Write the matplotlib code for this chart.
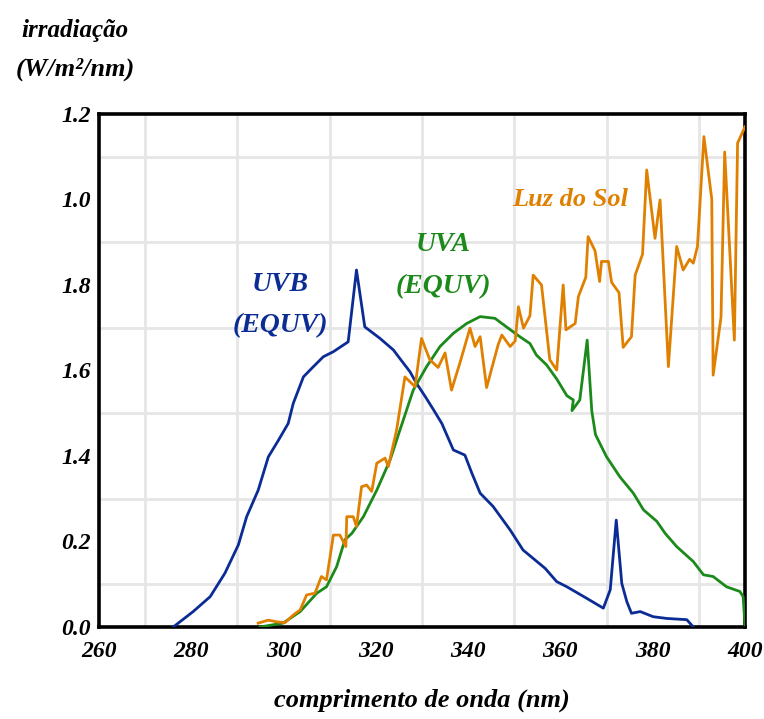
import matplotlib
matplotlib.use("Agg")
import matplotlib.pyplot as plt

# Espectros de irradiação (W/m²/nm) por comprimento de onda (nm)
uvb_wl = [276.1, 280.4, 284.1, 287.3, 290.2, 292.0, 294.5, 296.7, 298.9, 301.0,
          302.1, 304.3, 306.1, 308.6, 310.8, 314.0, 315.8, 317.6, 320.9, 323.8,
          325.2, 327.4, 328.8, 330.7, 332.5, 334.3, 336.8, 339.3, 340.8, 342.6,
          345.4, 349.1, 351.9, 356.7, 359.2, 361.4, 365.7, 369.3, 370.8, 372.1,
          373.3, 374.4, 375.4, 377.3, 380.1, 383.0, 387.4, 388.8]
uvb_val = [0.000, 0.036, 0.071, 0.126, 0.192, 0.258, 0.320, 0.398, 0.437, 0.476,
           0.523, 0.585, 0.605, 0.632, 0.644, 0.667, 0.835, 0.702, 0.675, 0.648,
           0.628, 0.597, 0.570, 0.539, 0.508, 0.476, 0.414, 0.402, 0.360, 0.313,
           0.282, 0.227, 0.180, 0.137, 0.106, 0.094, 0.067, 0.044, 0.087, 0.250,
           0.102, 0.059, 0.032, 0.036, 0.024, 0.020, 0.017, 0.000]

uva_wl = [294.9, 299.9, 303.6, 307.2, 309.3, 311.5, 313.3, 314.8, 317.3, 320.2,
          323.1, 325.2, 328.1, 331.0, 333.9, 336.8, 339.7, 342.6, 345.8, 348.3,
          351.2, 353.4, 354.8, 357.0, 359.2, 361.4, 362.8, 362.5, 364.2, 365.8,
          366.8, 367.6, 370.0, 372.9, 375.8, 378.0, 380.9, 382.7, 385.2, 388.8,
          391.0, 393.1, 396.0, 398.9, 399.6, 400.0]
uva_val = [0.000, 0.009, 0.036, 0.079, 0.094, 0.141, 0.204, 0.219, 0.258, 0.320,
           0.391, 0.460, 0.554, 0.609, 0.656, 0.687, 0.710, 0.726, 0.722, 0.702,
           0.679, 0.663, 0.636, 0.613, 0.580, 0.541, 0.531, 0.506, 0.531, 0.671,
           0.505, 0.450, 0.398, 0.351, 0.313, 0.274, 0.247, 0.219, 0.188, 0.153,
           0.122, 0.118, 0.094, 0.083, 0.071, 0.005]

sol_wl = [294.5, 296.7, 298.5, 300.3, 302.1, 303.6, 305.0, 306.8, 308.2, 309.3,
          310.8, 312.2, 313.5, 313.7, 315.1, 315.8, 316.9, 318.0, 319.1, 320.2,
          322.0, 322.7, 324.5, 326.3, 328.5, 329.9, 331.7, 333.5, 335.0, 336.4,
          338.2, 340.4, 341.5, 342.6, 344.0, 346.5, 347.3, 349.1, 350.2, 350.9,
          352.0, 353.4, 354.1, 355.9, 357.7, 359.2, 360.6, 361.2, 363.2, 363.9,
          365.5, 366.0, 367.5, 368.5, 368.9, 370.4, 371.1, 372.7, 373.6, 375.4,
          376.2, 377.8, 378.7, 380.5, 381.6, 383.4, 385.2, 386.6, 388.0, 388.8,
          389.7, 391.1, 392.8, 393.1, 394.8, 395.6, 397.7, 398.4, 400.0]
sol_val = [0.009, 0.016, 0.012, 0.010, 0.028, 0.040, 0.075, 0.079, 0.118, 0.110,
           0.215, 0.215, 0.188, 0.258, 0.258, 0.235, 0.328, 0.332, 0.317, 0.383,
           0.395, 0.375, 0.461, 0.585, 0.562, 0.675, 0.625, 0.607, 0.641, 0.554,
           0.617, 0.699, 0.656, 0.679, 0.560, 0.660, 0.683, 0.656, 0.669, 0.749,
           0.699, 0.728, 0.823, 0.800, 0.625, 0.601, 0.800, 0.695, 0.710, 0.773,
           0.818, 0.913, 0.880, 0.808, 0.855, 0.855, 0.806, 0.782, 0.654, 0.679,
           0.823, 0.872, 1.069, 0.909, 0.999, 0.609, 0.890, 0.835, 0.860, 0.851,
           0.890, 1.147, 1.001, 0.589, 0.724, 1.111, 0.671, 1.132, 1.170]

x_ticks = [260, 280, 300, 320, 340, 360, 380, 400]
y_ticks = [0.0, 0.2, 0.4, 0.6, 0.8, 1.0, 1.2]
y_tick_labels = ["0.0", "0.2", "1.4", "1.6", "1.8", "1.0", "1.2"]

BLUE = "#0b2c94"
GREEN = "#1b8a1b"
ORANGE = "#e08000"
FONT = dict(family="Liberation Serif", style="italic", weight="bold")

fig = plt.figure(figsize=(7.64, 7.19), dpi=100)
ax = fig.add_axes([0.1296, 0.128, 0.8455, 0.7135])

ax.plot(uvb_wl, uvb_val, color=BLUE, lw=2.0, zorder=3)
ax.plot(uva_wl, uva_val, color=GREEN, lw=2.0, zorder=3)
ax.plot(sol_wl, sol_val, color=ORANGE, lw=2.0, zorder=4)

ax.set_xlim(260, 400)
ax.set_ylim(0, 1.2)

# grade fina: a cada 10 nm e a cada 0.1
ax.set_xticks(range(260, 401, 10), minor=True)
ax.set_yticks([i / 10 for i in range(13)], minor=True)
ax.grid(which="minor", color="#e6e6e6", lw=2.0, zorder=0)
ax.set_axisbelow(True)

ax.set_xticks(x_ticks)
ax.set_xticklabels([str(t) for t in x_ticks], fontsize=17, **FONT)
ax.set_yticks(y_ticks)
ax.set_yticklabels(y_tick_labels, fontsize=17, **FONT)
ax.tick_params(axis="x", which="both", length=0, pad=10)
ax.tick_params(axis="y", which="both", length=0, pad=6)

for s in ax.spines.values():
    s.set_linewidth(2.6)
    s.set_color("black")

ax.text(299.2, 0.80, "UVB", color=BLUE, fontsize=20, ha="center", va="center", **FONT)
ax.text(299.2, 0.706, "(EQUV)", color=BLUE, fontsize=20, ha="center", va="center", **FONT)
ax.text(334.6, 0.894, "UVA", color=GREEN, fontsize=20, ha="center", va="center", **FONT)
ax.text(334.6, 0.795, "(EQUV)", color=GREEN, fontsize=20, ha="center", va="center", **FONT)
ax.text(362.1, 0.999, "Luz do Sol", color=ORANGE, fontsize=19, ha="center", va="center", **FONT)

fig.text(0.098, 0.958, "irradiação", fontsize=18, ha="center", va="center", **FONT)
fig.text(0.098, 0.903, "(W/m²/nm)", fontsize=19, ha="center", va="center", **FONT)
fig.text(0.552, 0.026, "comprimento de onda (nm)", fontsize=19, ha="center", va="center", **FONT)

fig.savefig("out.png", dpi=100)
